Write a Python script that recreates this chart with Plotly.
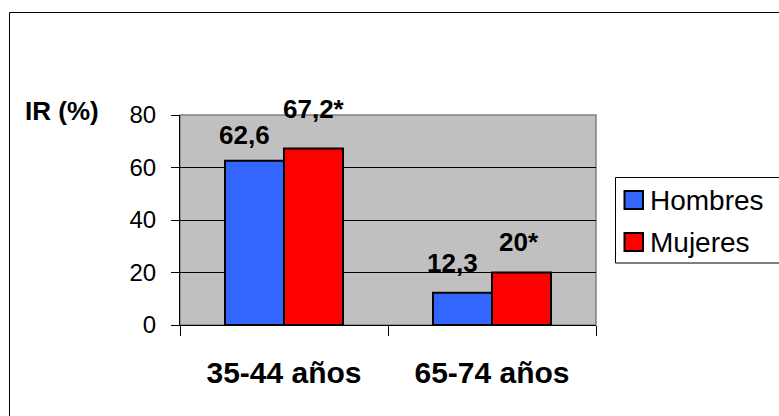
import plotly.graph_objects as go

# ---- data ----
categories = ["35-44 años", "65-74 años"]
series_names = ["Hombres", "Mujeres"]
hombres = [62.6, 12.3]
mujeres = [67.2, 20.0]
hombres_labels = ["62,6", "12,3"]
mujeres_labels = ["67,2*", "20*"]
y_ticks = [0, 20, 40, 60, 80]
y_title = "IR (%)"

# ---- style ----
W, H = 779, 416
L, R, T, B = 180, 596, 115, 325  # plot area in px
BLUE = "#3366FF"
RED = "#FF0000"
FONT = "Arial, Liberation Sans, sans-serif"


def pxx(x):
    return (x - L) / (R - L)


def pyy(y):
    return (B - y) / (B - T)


fig = go.Figure()
fig.add_trace(go.Bar(x=categories, y=hombres, name=series_names[0],
                     marker=dict(color=BLUE, line=dict(color="black", width=2)),
                     showlegend=False, hoverinfo="skip"))
fig.add_trace(go.Bar(x=categories, y=mujeres, name=series_names[1],
                     marker=dict(color=RED, line=dict(color="black", width=2)),
                     showlegend=False, hoverinfo="skip"))

annotations = []
# value labels (anchored to data, shifted in px)
h_xshift = [-40, -40]
h_yshift = [26, 30]
m_xshift = [30, 27]
m_yshift = [40, 31]
for i, c in enumerate(categories):
    annotations.append(dict(x=c, y=hombres[i], xref="x", yref="y", text=hombres_labels[i],
                            showarrow=False, xshift=h_xshift[i], yshift=h_yshift[i],
                            font=dict(family=FONT, size=26, color="black", weight="bold"),
                            xanchor="center", yanchor="middle"))
    annotations.append(dict(x=c, y=mujeres[i], xref="x", yref="y", text=mujeres_labels[i],
                            showarrow=False, xshift=m_xshift[i], yshift=m_yshift[i],
                            font=dict(family=FONT, size=26, color="black", weight="bold"),
                            xanchor="center", yanchor="middle"))

# y title
annotations.append(dict(x=pxx(61.5), y=pyy(111), xref="paper", yref="paper", text="<b>" + y_title + "</b>",
                        showarrow=False, font=dict(family=FONT, size=26, color="black"),
                        xanchor="center", yanchor="middle"))

# custom legend
legend_rows = [(200, BLUE, series_names[0]), (242, RED, series_names[1])]
shapes = [
    # outer frame
    dict(type="rect", xref="paper", yref="paper", x0=pxx(9.5), x1=pxx(900), y0=pyy(600), y1=pyy(12.5),
         line=dict(color="black", width=1), fillcolor="rgba(0,0,0,0)", layer="below"),
    # plot area gray frame (top/right)
    dict(type="rect", xref="paper", yref="paper", x0=0, x1=1, y0=0, y1=1,
         line=dict(color="#808080", width=1.5), fillcolor="rgba(0,0,0,0)", layer="below"),
    # legend box
    dict(type="rect", xref="paper", yref="paper", x0=pxx(615.5), x1=pxx(900), y0=pyy(263), y1=pyy(177.5),
         line=dict(color="black", width=1), fillcolor="white"),
]
for yc, col, name in legend_rows:
    shapes.append(dict(type="rect", xref="paper", yref="paper", x0=pxx(624.5), x1=pxx(643),
                       y0=pyy(yc + 9), y1=pyy(yc - 9),
                       line=dict(color="black", width=2), fillcolor=col))
    annotations.append(dict(x=pxx(648), y=pyy(yc), xref="paper", yref="paper", text=name,
                            showarrow=False, font=dict(family=FONT, size=28, color="black"),
                            xanchor="left", yanchor="middle"))

fig.update_layout(
    width=W, height=H,
    margin=dict(l=L, r=W - R, t=T, b=H - B, pad=0),
    paper_bgcolor="white",
    plot_bgcolor="#C0C0C0",
    barmode="group",
    bargap=1 - 118 / 208,
    bargroupgap=0,
    showlegend=False,
    annotations=annotations,
    shapes=shapes,
    font=dict(family=FONT, color="black"),
)
fig.update_xaxes(
    type="category",
    showline=True, linecolor="black", linewidth=1,
    ticks="outside", tickson="boundaries", ticklen=10, tickcolor="black", tickwidth=1,
    showgrid=False,
    tickfont=dict(family=FONT, size=30, color="black", weight="bold"),
    ticklabelstandoff=21,
)
fig.update_yaxes(
    range=[0, 80], tickvals=y_ticks, ticktext=[str(v) for v in y_ticks],
    showline=True, linecolor="black", linewidth=1,
    ticks="outside", ticklen=8, tickcolor="black", tickwidth=1,
    showgrid=True, gridcolor="black", gridwidth=1,
    zeroline=False,
    tickfont=dict(family=FONT, size=24, color="black"),
    ticklabelstandoff=10,
)

fig.write_html("out.html", config={"displayModeBar": False},
               post_script="document.body.style.margin='0';")
